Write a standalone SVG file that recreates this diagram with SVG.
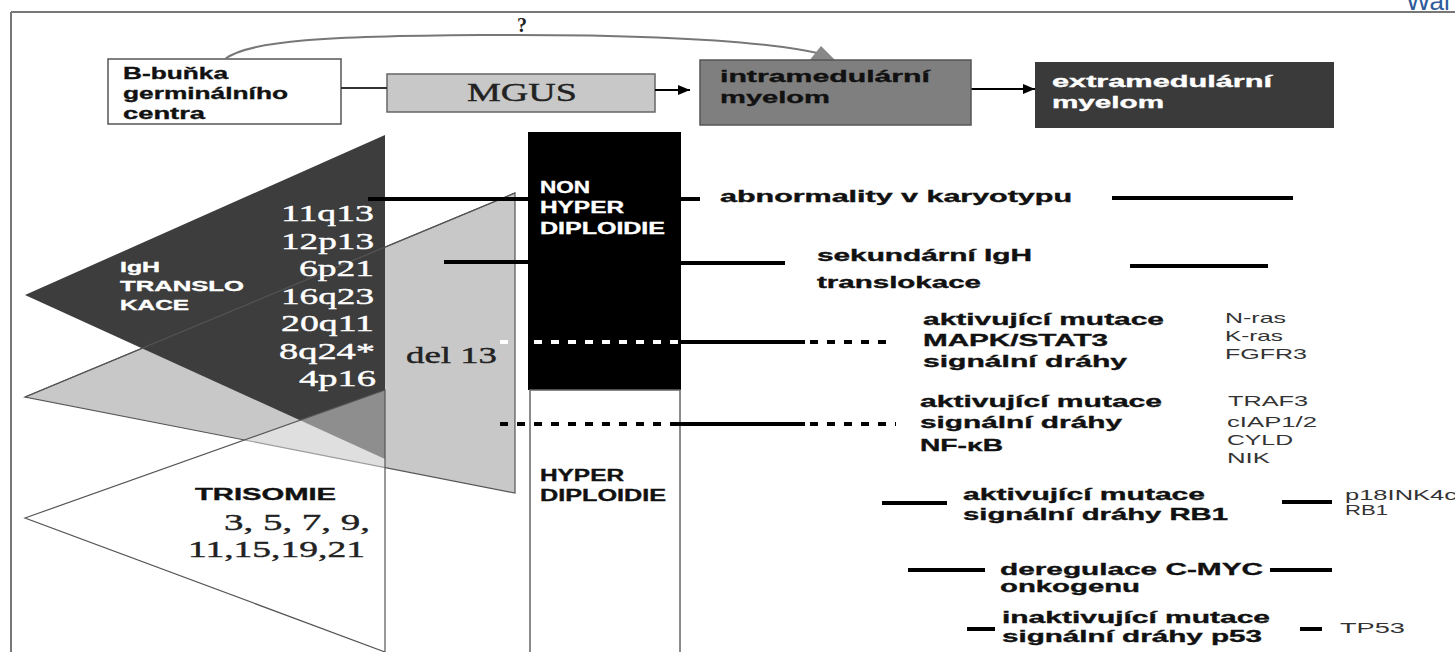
<svg xmlns="http://www.w3.org/2000/svg" width="1455" height="652" viewBox="0 0 1455 652">
<defs>
<style>
.sb{font-family:"Liberation Sans",Arial,sans-serif;font-weight:bold;fill:#111;stroke:#111;stroke-width:0.35}
.sr{font-family:"Liberation Serif","Times New Roman",serif;stroke-width:0.4}
.gene{font-family:"Liberation Sans",Arial,sans-serif;fill:#333;font-size:15px}
.w{fill:#fff;stroke:#fff}
.ln{stroke:#000;stroke-width:4;fill:none}
.dash{stroke-dasharray:8 9}
.thin{stroke:#555;stroke-width:1.2;fill:none}
</style>
<marker id="ah" viewBox="0 0 12 10" refX="12" refY="5" markerWidth="12" markerHeight="10" orient="auto" markerUnits="userSpaceOnUse"><path d="M0,0 L12,5 L0,10 z" fill="#000"/></marker>
</defs>
<rect x="0" y="0" width="1455" height="652" fill="#fff"/>
<g id="frame">
<line x1="11" y1="12" x2="1455" y2="12" stroke="#777" stroke-width="2"/>
<line x1="11" y1="12" x2="11" y2="652" stroke="#777" stroke-width="2"/>
<text x="1406" y="10" font-family="Liberation Sans, Arial, sans-serif" font-size="26" fill="#2e5c9a">Wai</text>
</g>

<g id="triangles">
<polygon id="del13-tri" points="25,397 515,193 515,493" fill="#c8c8c8" stroke="#555" stroke-width="1.2"/>
<polygon id="igh-tri" points="25,295 385,135 385,459" fill="#3d3d3d"/>
<polyline points="25,397 515,193" class="thin" stroke="#777"/>
<polygon id="tris-tri" points="25,518 385,390 385,652" fill="#fff" fill-opacity="0.42" stroke="#555" stroke-width="1.2"/>
</g>

<g id="node-igh">
<text class="sb w" font-size="14.5" x="120" y="272" textLength="40" lengthAdjust="spacingAndGlyphs">IgH</text>
<text class="sb w" font-size="14.5" x="120" y="291" textLength="124" lengthAdjust="spacingAndGlyphs">TRANSLO</text>
<text class="sb w" font-size="14.5" x="120" y="310" textLength="69" lengthAdjust="spacingAndGlyphs">KACE</text>
<g class="sr" font-size="24" fill="#fff" stroke="#fff">
<text x="281" y="221" textLength="93" lengthAdjust="spacingAndGlyphs">11q13</text>
<text x="281" y="248.5" textLength="93" lengthAdjust="spacingAndGlyphs">12p13</text>
<text x="299" y="276" textLength="75" lengthAdjust="spacingAndGlyphs">6p21</text>
<text x="281" y="303.5" textLength="93" lengthAdjust="spacingAndGlyphs">16q23</text>
<text x="281" y="331" textLength="93" lengthAdjust="spacingAndGlyphs">20q11</text>
<text x="279" y="358.5" textLength="96" lengthAdjust="spacingAndGlyphs">8q24*</text>
<text x="299" y="386" textLength="77" lengthAdjust="spacingAndGlyphs">4p16</text>
</g>
</g>

<g id="node-del13">
<text class="sr" font-size="24" fill="#222" stroke="#222" x="406" y="363" textLength="91" lengthAdjust="spacingAndGlyphs">del 13</text>
</g>

<g id="node-trisomie">
<text class="sb" font-size="16" x="195" y="500" textLength="141" lengthAdjust="spacingAndGlyphs">TRISOMIE</text>
<text class="sr" font-size="24" fill="#222" stroke="#222" x="224" y="530" textLength="146" lengthAdjust="spacingAndGlyphs">3, 5, 7, 9,</text>
<text class="sr" font-size="24" fill="#222" stroke="#222" x="188" y="557" textLength="177" lengthAdjust="spacingAndGlyphs">11,15,19,21</text>
</g>

<g id="node-nonhyper">
<rect x="528" y="132" width="153" height="258" fill="#000"/>
<text class="sb w" font-size="16" x="540" y="193" textLength="50" lengthAdjust="spacingAndGlyphs">NON</text>
<text class="sb w" font-size="16" x="540" y="213" textLength="84" lengthAdjust="spacingAndGlyphs">HYPER</text>
<text class="sb w" font-size="16" x="540" y="234" textLength="125" lengthAdjust="spacingAndGlyphs">DIPLOIDIE</text>
</g>

<g id="node-hyper">
<rect x="530" y="390" width="150" height="270" fill="#fff" stroke="#666" stroke-width="1.5"/>
<text class="sb" font-size="16" x="540" y="481" textLength="84" lengthAdjust="spacingAndGlyphs">HYPER</text>
<text class="sb" font-size="16" x="540" y="501" textLength="126" lengthAdjust="spacingAndGlyphs">DIPLOIDIE</text>
</g>

<g id="node-bcell">
<rect x="108" y="59" width="233" height="65" fill="#fff" stroke="#555" stroke-width="1.5"/>
<text class="sb" font-size="17" x="123" y="79" textLength="105" lengthAdjust="spacingAndGlyphs">B-buňka</text>
<text class="sb" font-size="17" x="123" y="99" textLength="165" lengthAdjust="spacingAndGlyphs">germinálního</text>
<text class="sb" font-size="17" x="123" y="119" textLength="82" lengthAdjust="spacingAndGlyphs">centra</text>
</g>

<g id="node-mgus">
<rect x="387" y="74" width="268" height="38" fill="#c8c8c8" stroke="#666" stroke-width="1.5"/>
<text class="sr" font-size="26" fill="#222" stroke="#222" x="467" y="101" textLength="110" lengthAdjust="spacingAndGlyphs">MGUS</text>
</g>

<g id="connectors">
<path d="M225,59 C250,40 330,36 480,35 C640,34 760,40 822,54" fill="none" stroke="#777" stroke-width="2"/>
<polygon points="809,61 821,46 836,61" fill="#888"/>
<text class="sr" font-weight="bold" font-size="20" fill="#222" x="517" y="32">?</text>
<line x1="341" y1="88" x2="387" y2="88" stroke="#333" stroke-width="2"/>
<line x1="655" y1="90" x2="690" y2="90" stroke="#000" stroke-width="2" marker-end="url(#ah)"/>
<line x1="971" y1="89" x2="1035" y2="89" stroke="#000" stroke-width="2" marker-end="url(#ah)"/>

<line x1="368" y1="199" x2="528" y2="199" class="ln" stroke-width="3.5"/>
<line x1="681" y1="199" x2="700" y2="199" class="ln"/>
<line x1="1112" y1="198" x2="1293" y2="198" class="ln" stroke-width="5"/>

<line x1="444" y1="262" x2="528" y2="262" class="ln" stroke-width="3.5"/>
<line x1="681" y1="263" x2="785" y2="263" class="ln"/>
<line x1="1130" y1="266" x2="1268" y2="266" class="ln" stroke-width="5"/>

<line x1="500" y1="342" x2="680" y2="342" stroke="#fff" stroke-width="4" class="dash"/>
<line x1="680" y1="342" x2="805" y2="342" class="ln"/>
<line x1="810" y1="342" x2="892" y2="342" class="ln dash"/>

<line x1="500" y1="424" x2="675" y2="424" class="ln dash"/>
<line x1="675" y1="424" x2="805" y2="424" class="ln"/>
<line x1="810" y1="424" x2="896" y2="424" class="ln dash"/>

<line x1="882" y1="503" x2="947" y2="503" class="ln" stroke-width="3.5"/>
<line x1="1282" y1="502" x2="1332" y2="502" class="ln" stroke-width="3"/>

<line x1="908" y1="570" x2="985" y2="570" class="ln" stroke-width="5"/>
<line x1="1270" y1="570" x2="1332" y2="570" class="ln" stroke-width="5"/>

<line x1="967" y1="629" x2="995" y2="629" class="ln" stroke-width="5"/>
<line x1="1300" y1="629" x2="1322" y2="629" class="ln" stroke-width="5"/>
</g>

<g id="node-intra">
<rect x="700" y="60" width="271" height="65" fill="#7f7f7f" stroke="#555" stroke-width="1.5"/>
<text class="sb" font-size="17" x="720" y="82" textLength="210" lengthAdjust="spacingAndGlyphs">intramedulární</text>
<text class="sb" font-size="17" x="720" y="103" textLength="110" lengthAdjust="spacingAndGlyphs">myelom</text>
</g>

<g id="node-extra">
<rect x="1035" y="62" width="299" height="66" fill="#3a3a3a"/>
<text class="sb w" font-size="16" x="1052" y="87" textLength="220" lengthAdjust="spacingAndGlyphs">extramedulární</text>
<text class="sb w" font-size="16" x="1052" y="108" textLength="112" lengthAdjust="spacingAndGlyphs">myelom</text>
</g>

<g id="label-karyotyp">
<text class="sb" font-size="16" x="720" y="202" textLength="352" lengthAdjust="spacingAndGlyphs">abnormality v karyotypu</text>
</g>

<g id="label-igh2">
<text class="sb" font-size="16" x="817" y="261" textLength="215" lengthAdjust="spacingAndGlyphs">sekundární IgH</text>
<text class="sb" font-size="16" x="817" y="288" textLength="164" lengthAdjust="spacingAndGlyphs">translokace</text>
</g>

<g id="label-mapk">
<text class="sb" font-size="17" x="923" y="325" textLength="241" lengthAdjust="spacingAndGlyphs">aktivující mutace</text>
<text class="sb" font-size="17" x="923" y="346" textLength="185" lengthAdjust="spacingAndGlyphs">MAPK/STAT3</text>
<text class="sb" font-size="17" x="923" y="367" textLength="204" lengthAdjust="spacingAndGlyphs">signální dráhy</text>
<text class="gene" x="1225" y="323" textLength="61" lengthAdjust="spacingAndGlyphs">N-ras</text>
<text class="gene" x="1225" y="341" textLength="58" lengthAdjust="spacingAndGlyphs">K-ras</text>
<text class="gene" x="1225" y="359" textLength="82" lengthAdjust="spacingAndGlyphs">FGFR3</text>
</g>

<g id="label-nfkb">
<text class="sb" font-size="17" x="920" y="407" textLength="242" lengthAdjust="spacingAndGlyphs">aktivující mutace</text>
<text class="sb" font-size="17" x="920" y="428" textLength="202" lengthAdjust="spacingAndGlyphs">signální dráhy</text>
<text class="sb" font-size="17" x="920" y="451" textLength="83" lengthAdjust="spacingAndGlyphs">NF-κB</text>
<text class="gene" x="1228" y="406" textLength="80" lengthAdjust="spacingAndGlyphs">TRAF3</text>
<text class="gene" x="1227" y="427" textLength="90" lengthAdjust="spacingAndGlyphs">cIAP1/2</text>
<text class="gene" x="1227" y="445" textLength="66" lengthAdjust="spacingAndGlyphs">CYLD</text>
<text class="gene" x="1227" y="463" textLength="43" lengthAdjust="spacingAndGlyphs">NIK</text>
</g>

<g id="label-rb1">
<text class="sb" font-size="17" x="963" y="500" textLength="242" lengthAdjust="spacingAndGlyphs">aktivující mutace</text>
<text class="sb" font-size="17" x="963" y="520" textLength="265" lengthAdjust="spacingAndGlyphs">signální dráhy RB1</text>
<text class="gene" x="1345" y="500" textLength="112" lengthAdjust="spacingAndGlyphs">p18INK4c</text>
<text class="gene" x="1345" y="515" textLength="43" lengthAdjust="spacingAndGlyphs">RB1</text>
</g>

<g id="label-cmyc">
<text class="sb" font-size="17" x="1000" y="575" textLength="263" lengthAdjust="spacingAndGlyphs">deregulace C-MYC</text>
<text class="sb" font-size="17" x="1000" y="592" textLength="140" lengthAdjust="spacingAndGlyphs">onkogenu</text>
</g>

<g id="label-p53">
<text class="sb" font-size="17" x="1002" y="623" textLength="268" lengthAdjust="spacingAndGlyphs">inaktivující mutace</text>
<text class="sb" font-size="17" x="1002" y="642" textLength="260" lengthAdjust="spacingAndGlyphs">signální dráhy p53</text>
<text class="gene" x="1340" y="633" textLength="65" lengthAdjust="spacingAndGlyphs">TP53</text>
</g>
</svg>
